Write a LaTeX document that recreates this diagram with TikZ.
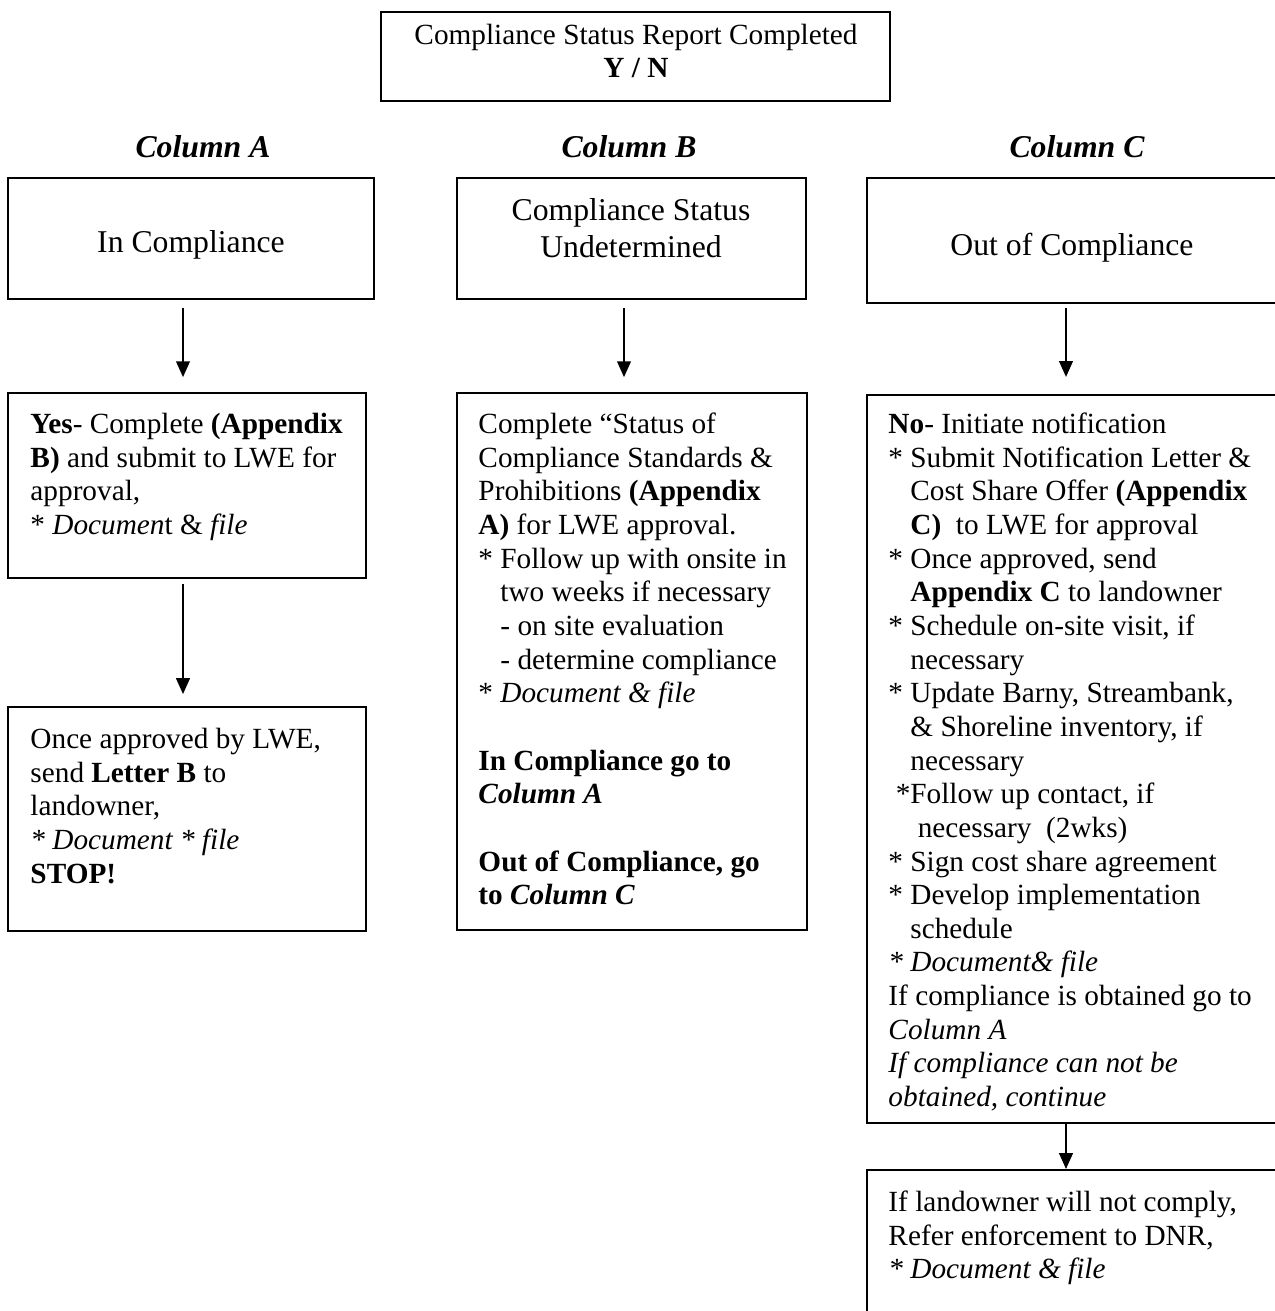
\documentclass[tikz,border=0pt]{standalone}
\usepackage{fontspec}
\setmainfont{Liberation Serif}
\usetikzlibrary{arrows.meta,fit}
\newcommand\myind{\hphantom{*\ }}
\newcommand\fl{\rule{0pt}{9pt}}
\begin{document}
\begin{tikzpicture}[x=0.41pt,y=-0.41pt,
  boxf/.style={draw,line width=0.8pt,inner sep=0pt},
  body/.style={inner sep=0pt,anchor=north west,align=left,font=\fontsize{12}{13.8}\selectfont},
  head/.style={inner sep=0pt,align=center,font=\fontsize{13}{14.95}\selectfont},
  toptext/.style={inner sep=0pt,align=center,font=\fontsize{12}{13.6}\selectfont},
  coltitle/.style={inner sep=0pt,font=\fontsize{13}{15}\selectfont\bfseries\itshape},
  arr/.style={line width=0.8pt,-{Triangle[width=5.6pt,length=6.5pt]}}]
\useasboundingbox (0,0) rectangle (1275,1311);
\clip (0,0) rectangle (1275,1311);

% top box
\node[boxf,fit={(381,12) (890,101)}] (top) {};
\node[toptext] (toptxt) at (636,51) {Compliance Status Report Completed\\ \textbf{Y / N}};

% column titles
\node[coltitle] (colA) at (203,147) {Column A};
\node[coltitle] (colB) at (629,147) {Column B};
\node[coltitle] (colC) at (1077,147) {Column C};

% first row
\node[boxf,fit={(8,178) (374,299)}] (A1) {};
\node[head] (A1t) at (191,245) {In Compliance};
\node[boxf,fit={(457,178) (806,299)}] (B1) {};
\node[head] (B1t) at (631,228) {Compliance Status\\ Undetermined};
\node[boxf,fit={(867,178) (1279,303)}] (C1) {};
\node[head] (C1t) at (1072,248) {Out of Compliance};

% column A
\node[boxf,fit={(8,393) (366,578)}] (A2) {};
\node[body] (A2t) at (30,411) {\fl\textbf{Yes}- Complete \textbf{(Appendix}\\
\textbf{B)} and submit to LWE for\\
approval,\\
* \textit{Documen}t \& \textit{file}};
\node[boxf,fit={(8,707) (366,931)}] (A3) {};
\node[body] (A3t) at (30,726) {\fl Once approved by LWE,\\
send \textbf{Letter B} to\\
landowner,\\
\textit{* Document * file}\\
\textbf{STOP!}};

% column B
\node[boxf,fit={(457,393) (807,930)}] (B2) {};
\node[body] (B2t) at (478,411) {\fl Complete “Status of\\
Compliance Standards \&\\
Prohibitions \textbf{(Appendix}\\
\textbf{A)} for LWE approval.\\
* Follow up with onsite in\\
\myind two weeks if necessary\\
\myind - on site evaluation\\
\myind - determine compliance\\
* \textit{Document \& file}\\
~\\
\textbf{In Compliance go to}\\
\textbf{\textit{Column A}}\\
~\\
\textbf{Out of Compliance, go}\\
\textbf{to \textit{Column C}}};

% column C
\node[boxf,fit={(867,395) (1279,1123)}] (C2) {};
\node[body] (C2t) at (888,411) {\fl\textbf{No}- Initiate notification\\
* Submit Notification Letter \&\\
\myind Cost Share Offer \textbf{(Appendix}\\
\myind \textbf{C)}\ \ to LWE for approval\\
* Once approved, send\\
\myind \textbf{Appendix C} to landowner\\
* Schedule on-site visit, if\\
\myind necessary\\
* Update Barny, Streambank,\\
\myind \& Shoreline inventory, if\\
\myind necessary\\
\ *Follow up contact, if\\
\hspace*{3pt}\myind necessary\ \ (2wks)\\
* Sign cost share agreement\\
* Develop implementation\\
\myind schedule\\
\textit{* Document\& file}\\
If compliance is obtained go to\\
\textit{Column A}\\
\textit{If compliance can not be}\\
\textit{obtained, continue}};
\node[boxf,fit={(867,1170) (1279,1330)}] (C3) {};
\node[body] (C3t) at (888,1189) {\fl If landowner will not comply,\\
Refer enforcement to DNR,\\
\textit{* Document \& file}};

% arrows
\coordinate (xA) at (183,0);
\coordinate (xB) at (624,0);
\coordinate (xC) at (1066,0);
\draw[arr,shorten <=3.3pt,shorten >=6.1pt] (A1.south -| xA) -- (A2.north -| xA);
\draw[arr,shorten <=2pt,shorten >=4.9pt] (A2.south -| xA) -- (A3.north -| xA);
\draw[arr,shorten <=3.3pt,shorten >=6.1pt] (B1.south -| xB) -- (B2.north -| xB);
\draw[arr,shorten <=1.6pt,shorten >=7pt] (C1.south -| xC) -- (C2.north -| xC);
\draw[arr] (C2.south -| xC) -- (C3.north -| xC);
\end{tikzpicture}
\end{document}
